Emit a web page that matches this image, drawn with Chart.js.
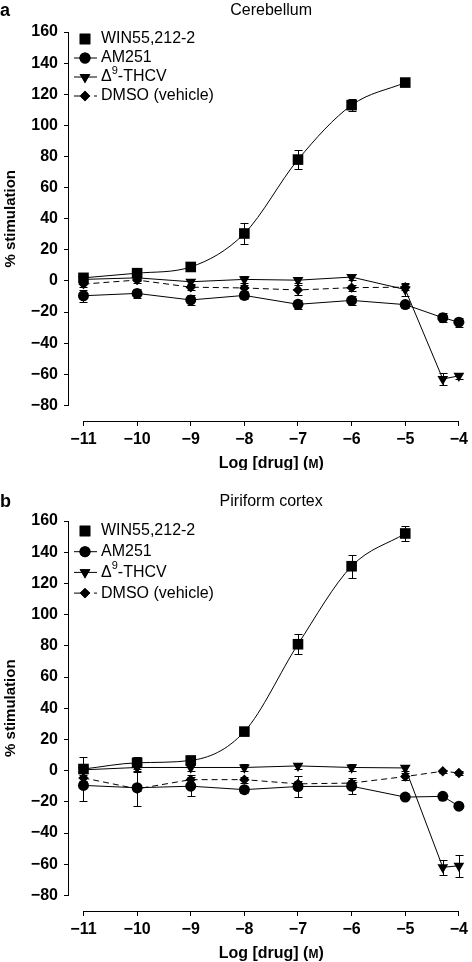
<!DOCTYPE html>
<html>
<head>
<meta charset="utf-8">
<title>Cerebellum / Piriform cortex</title>
<script src="https://cdn.jsdelivr.net/npm/chart.js@4.4.0/dist/chart.umd.min.js"></script>
<style>
    html, body { margin: 0; padding: 0; background: #fff; }
    #wrap { position: relative; width: 472px; height: 962px; }
    #panelA { position: absolute; left: 0; top: 0; width: 472px; height: 470px; }
    #panelB { position: absolute; left: 0; top: 470px; width: 472px; height: 492px; }
</style>
</head>
<body>
<div id="wrap">
    <div id="panelA"><canvas id="chartA" width="472" height="470"></canvas></div>
    <div id="panelB"><canvas id="chartB" width="472" height="492"></canvas></div>
</div>
<script>
// Log [drug] (M) for every point
const logDose = [-11, -10, -9, -8, -7, -6, -5, -4.3, -4];
const xTicks = [-11, -10, -9, -8, -7, -6, -5, -4];
const yTicks = [-80, -60, -40, -20, 0, 20, 40, 60, 80, 100, 120, 140, 160];

// a: Cerebellum
const cbWin = [2, 5, 9, 30.5, 78, 113, 127.5];
const cbWinErr = [1.5, 1.5, 1.5, 6.5, 6, 4, 2];
const cbAm = [-9.5, -8, -12.2, -9.3, -15, -12.5, -15.2, -23.6, -26.5];
const cbAmErr = [4, 3, 3, 2, 3, 3, 2, 3, 3];
const cbThcv = [1, 2, -0.5, 1, 0.5, 2.5, -5.5, -63, -61];
const cbThcvErr = [2, 2, 2, 2, 2, 2, 4, 4, 2];
const cbDmso = [-2, 0.6, -4, -4.5, -5.8, -4.3, -4];
const cbDmsoErr = [2, 2, 2, 2, 3, 2, 2];

// b: Piriform cortex
const pcWin = [1, 5, 6.5, 25, 81, 131, 152];
const pcWinErr = [8, 4, 2, 1, 6.5, 7.5, 5];
const pcAm = [-9.5, -11, -10, -12.2, -10.2, -10, -17, -16.5, -22.8];
const pcAmErr = [10, 2, 6, 2, 7, 5, 1, 1, 1];
const pcThcv = [0.5, 2, 2, 2, 3, 2, 1.7, -62, -61];
const pcThcvErr = [2, 2, 2, 2, 2, 2, 2, 5, 7];
const pcDmso = [-4.7, -11.7, -5.8, -5.8, -8.5, -8, -3.8, -0.4, -1.5];
const pcDmsoErr = [2, 11, 3, 2, 2, 2, 2, 1, 1];

const FONT = '"Liberation Sans", Arial, Helvetica, sans-serif';

function fmt(v) {
    return String(v).replace('-', '\u2212');
}

function makeSet(label, ys, errs, style) {
    return Object.assign({
        label: label,
        data: ys.map((y, i) => ({ x: logDose[i], y: y })),
        errors: errs,
        borderColor: '#000',
        backgroundColor: '#000',
        pointBackgroundColor: '#000',
        pointBorderColor: '#000',
        pointBorderWidth: 0,
        borderWidth: 1,
        tension: 0,
        clip: false
    }, style);
}

const winStyle = { pointStyle: 'rect', pointRadius: 7.5, cubicInterpolationMode: 'monotone', legendLine: false };
const amStyle = { pointStyle: 'circle', pointRadius: 5.5, legendLine: true };
const thcvStyle = { pointStyle: 'triangle', pointRotation: 180, pointRadius: 6.2, legendLine: true };
const dmsoStyle = { pointStyle: 'rectRot', pointRadius: 5.2, borderDash: [6, 4], legendLine: true };

// error bars drawn under the markers
const errorBars = {
    id: 'errorBars',
    beforeDatasetsDraw(chart) {
        const ctx = chart.ctx;
        const xs = chart.scales.x, ys = chart.scales.y;
        ctx.save();
        ctx.strokeStyle = '#000';
        ctx.lineWidth = 1;
        chart.data.datasets.forEach(ds => {
            ds.data.forEach((p, i) => {
                const e = ds.errors[i];
                if (!e) return;
                const px = Math.round(xs.getPixelForValue(p.x)) + 0.5;
                const top = Math.round(ys.getPixelForValue(p.y + e)) + 0.5;
                const bot = Math.round(ys.getPixelForValue(p.y - e)) + 0.5;
                ctx.beginPath();
                ctx.moveTo(px, top); ctx.lineTo(px, bot);
                ctx.moveTo(px - 4, top); ctx.lineTo(px + 4, top);
                ctx.moveTo(px - 4, bot); ctx.lineTo(px + 4, bot);
                ctx.stroke();
            });
        });
        ctx.restore();
    }
};

// axis lines, titles, panel letter and legend
const decor = {
    id: 'decor',
    afterDraw(chart, args, o) {
        const ctx = chart.ctx;
        const xs = chart.scales.x, ys = chart.scales.y, area = chart.chartArea;
        const yTop = ys.getPixelForValue(yTicks[yTicks.length - 1]);
        const yBot = ys.getPixelForValue(yTicks[0]);
        const xMid = xs.getPixelForValue((xTicks[0] + xTicks[xTicks.length - 1]) / 2);
        ctx.save();
        ctx.strokeStyle = '#000';
        ctx.lineWidth = 1;
        ctx.beginPath();
        ctx.moveTo(Math.round(area.left) - 0.5, yTop);
        ctx.lineTo(Math.round(area.left) - 0.5, yBot);
        ctx.moveTo(xs.getPixelForValue(xTicks[0]), Math.round(area.bottom) + 0.5);
        ctx.lineTo(xs.getPixelForValue(xTicks[xTicks.length - 1]), Math.round(area.bottom) + 0.5);
        ctx.stroke();

        ctx.fillStyle = '#000';
        ctx.textBaseline = 'middle';
        ctx.textAlign = 'left';
        ctx.font = 'bold 18px ' + FONT;
        ctx.fillText(o.letter, 0, o.titleY);
        ctx.textAlign = 'center';
        ctx.font = '16px ' + FONT;
        ctx.fillText(o.title, xMid, o.titleY);

        // x title, M in small capitals
        const partA = 'Log [drug] (', partM = 'M', partB = ')';
        ctx.font = 'bold 16px ' + FONT;
        const wA = ctx.measureText(partA).width, wB = ctx.measureText(partB).width;
        ctx.font = 'bold 12px ' + FONT;
        const wM = ctx.measureText(partM).width;
        let tx = xMid - (wA + wM + wB) / 2;
        const ty = area.bottom + 41;
        ctx.textAlign = 'left';
        ctx.textBaseline = 'alphabetic';
        ctx.font = 'bold 16px ' + FONT;
        ctx.fillText(partA, tx, ty + 6);
        tx += wA;
        ctx.font = 'bold 12px ' + FONT;
        ctx.fillText(partM, tx, ty + 6);
        tx += wM;
        ctx.font = 'bold 16px ' + FONT;
        ctx.fillText(partB, tx, ty + 6);

        // y title
        ctx.save();
        ctx.translate(11, (yTop + yBot) / 2);
        ctx.rotate(-Math.PI / 2);
        ctx.textAlign = 'center';
        ctx.textBaseline = 'middle';
        ctx.font = 'bold 15px ' + FONT;
        ctx.fillText('% stimulation', 0, 0);
        ctx.restore();

        // legend
        chart.data.datasets.forEach((ds, i) => {
            const ly = o.legendTop + i * o.legendStep;
            if (ds.legendLine) {
                ctx.save();
                ctx.setLineDash(ds.borderDash || []);
                ctx.beginPath();
                ctx.moveTo(74, ly);
                ctx.lineTo(97, ly);
                ctx.stroke();
                ctx.restore();
            }
            ctx.fillStyle = '#000';
            Chart.helpers.drawPoint(ctx, {
                pointStyle: ds.pointStyle,
                radius: ds.pointRadius,
                rotation: ds.pointRotation || 0,
                borderWidth: 0
            }, 85, ly);
            ctx.fill();
            drawLabel(ctx, ds.label, 101, ly);
        });
        ctx.restore();
    }
};

// label text, a digit after ^ is set as superscript
function drawLabel(ctx, text, x, y) {
    const parts = text.split(/\^(\d)/);
    ctx.textAlign = 'left';
    ctx.textBaseline = 'middle';
    parts.forEach((part, i) => {
        if (i % 2 === 1) {
            ctx.font = '11px ' + FONT;
            ctx.fillText(part, x, y - 6);
        } else {
            ctx.font = '16px ' + FONT;
            ctx.fillText(part, x, y);
        }
        x += ctx.measureText(part).width;
    });
}

function buildChart(id, sets, o) {
    const tickFont = { family: FONT, size: 16, weight: 'bold' };
    return new Chart(document.getElementById(id), {
        type: 'line',
        data: { datasets: sets },
        options: {
            responsive: false,
            animation: false,
            layout: { padding: { top: o.padTop, right: 11, left: 0, bottom: 0 } },
            plugins: {
                legend: { display: false },
                tooltip: { enabled: false },
                decor: o
            },
            scales: {
                x: {
                    type: 'linear',
                    min: -11.27,
                    max: -4,
                    afterBuildTicks: s => { s.ticks = xTicks.map(v => ({ value: v })); },
                    afterFit: s => { s.height = o.xHeight; },
                    grid: { drawOnChartArea: false, drawTicks: true, tickLength: 5, color: '#000' },
                    border: { display: false },
                    ticks: { font: tickFont, color: '#000', padding: 4, maxRotation: 0, autoSkip: false, callback: v => fmt(v) }
                },
                y: {
                    type: 'linear',
                    min: -90,
                    max: 160,
                    afterBuildTicks: s => { s.ticks = yTicks.map(v => ({ value: v })); },
                    afterFit: s => { s.width = 69; },
                    grid: { drawOnChartArea: false, drawTicks: true, tickLength: 5, color: '#000' },
                    border: { display: false },
                    ticks: { font: tickFont, color: '#000', padding: 6, autoSkip: false, callback: v => fmt(v) }
                }
            }
        },
        plugins: [errorBars, decor]
    });
}

buildChart('chartA', [
    makeSet('WIN55,212-2', cbWin, cbWinErr, winStyle),
    makeSet('AM251', cbAm, cbAmErr, amStyle),
    makeSet('\u0394^9-THCV', cbThcv, cbThcvErr, thcvStyle),
    makeSet('DMSO (vehicle)', cbDmso, cbDmsoErr, dmsoStyle)
], { letter: 'a', title: 'Cerebellum', titleY: 11, padTop: 32, xHeight: 49, legendTop: 39, legendStep: 19 });

buildChart('chartB', [
    makeSet('WIN55,212-2', pcWin, pcWinErr, winStyle),
    makeSet('AM251', pcAm, pcAmErr, amStyle),
    makeSet('\u0394^9-THCV', pcThcv, pcThcvErr, thcvStyle),
    makeSet('DMSO (vehicle)', pcDmso, pcDmsoErr, dmsoStyle)
], { letter: 'b', title: 'Piriform cortex', titleY: 32, padTop: 51, xHeight: 51, legendTop: 61, legendStep: 20.7 });
</script>
</body>
</html>
